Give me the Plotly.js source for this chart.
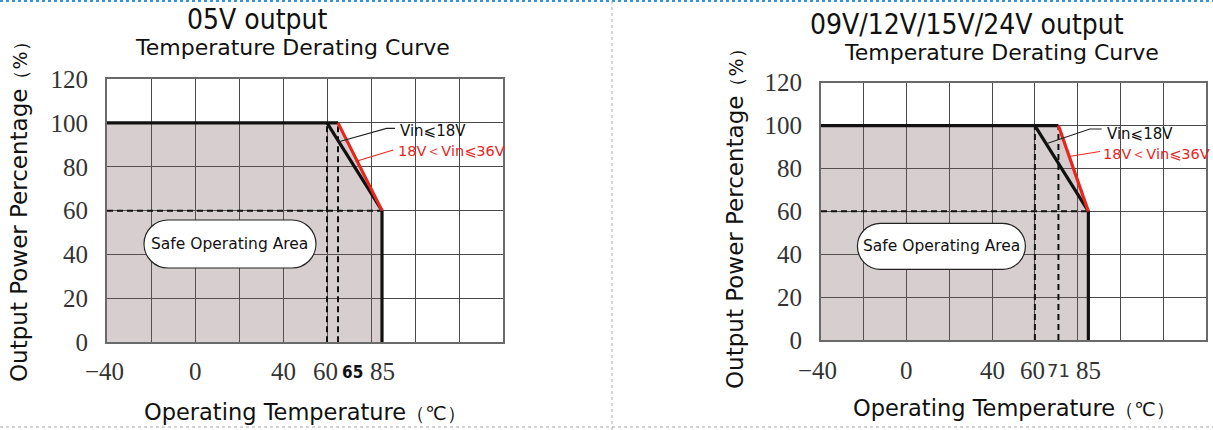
<!DOCTYPE html>
<html><head><meta charset="utf-8">
<script src="https://cdn.plot.ly/plotly-3.0.1.min.js"></script>
<style>html,body{margin:0;padding:0;background:#fff;overflow:hidden}#chart{width:1213px;height:430px}</style>
</head><body><div id="chart"></div>
<script>
// ---------------- data ----------------
const gridTemps = [-40, -20, 0, 20, 40, 60, 80, 100, 120, 140];
const powerTicks = [0, 20, 40, 60, 80, 100, 120];
const panelTitles = ["05V output", "09V/12V/15V/24V output"];
const subTitle = "Temperature Derating Curve";
const xTitleText = "Operating Temperature";
const yTitleText = "Output Power Percentage";
const areaLabel = "Safe Operating Area";
const vinLowLabel = "Vin⩽18V";
const vinHighLabel = "18V＜Vin⩽36V";

// Panel A (05V output)
const a_tickVals = [-40, 0, 40, 60, 65, 85];
const a_tickText = ["−40", "0", "40", "60", "65", "85"];
const a_areaT = [-40, 65, 85, 85, -40];
const a_areaP = [100, 100, 60, 0, 0];
const a_topT = [-40, 65];       const a_topP = [100, 100];
const a_lowVinT = [60, 85];     const a_lowVinP = [100, 60];
const a_highVinT = [65, 85];    const a_highVinP = [100, 60];
const a_cutT = [85, 85];        const a_cutP = [60, 0];
const a_dashHT = [-40, 85];     const a_dashHP = [60, 60];
const a_dashV1T = [60, 60];     const a_dashV1P = [0, 100];
const a_dashV2T = [65, 65];     const a_dashV2P = [0, 100];
const a_leadLowT = [65.4, 87.1, 90.9];  const a_leadLowP = [91.4, 97.5, 97.5];
const a_leadHighT = [73.7, 90.1];       const a_leadHighP = [82.6, 87.6];

// Panel B (09V/12V/15V/24V output)
const b_tickVals = [-40, 0, 40, 60, 71, 85];
const b_tickText = ["−40", "0", "40", "60", "71", "85"];
const b_areaT = [-40, 71, 85, 85, -40];
const b_areaP = [100, 100, 60, 0, 0];
const b_topT = [-40, 71];       const b_topP = [100, 100];
const b_lowVinT = [60, 85];     const b_lowVinP = [100, 60];
const b_highVinT = [71, 85];    const b_highVinP = [100, 60];
const b_cutT = [85, 85];        const b_cutP = [60, 0];
const b_dashHT = [-40, 85];     const b_dashHP = [60, 60];
const b_dashV1T = [60, 60];     const b_dashV1P = [0, 100];
const b_dashV2T = [71, 71];     const b_dashV2P = [0, 100];
const b_leadLowT = [65.3, 85.7, 91.2];  const b_leadLowP = [91.5, 98.4, 98.4];
const b_leadHighT = [76.0, 90.4];       const b_leadHighP = [85.6, 87.9];

// ---------------- styling / layout ----------------
const W = 1213, H = 430;
const px = v => v / W, py = v => 1 - v / H;
const SANS = "DejaVu Sans, Liberation Sans, sans-serif";
const NARROW = "Liberation Sans Narrow, DejaVu Sans Condensed, Liberation Sans, sans-serif";
const SERIF = "Liberation Serif, DejaVu Serif, serif";
const RED = "#e8261e", INK = "#111";

const panels = [
  {xa: "x", ya: "y", box: [107, 503, 79, 342.3],
   tickVals: a_tickVals, tickText: a_tickText,
   areaT: a_areaT, areaP: a_areaP, topT: a_topT, topP: a_topP,
   lowT: a_lowVinT, lowP: a_lowVinP, highT: a_highVinT, highP: a_highVinP,
   cutT: a_cutT, cutP: a_cutP,
   dashes: [[a_dashHT, a_dashHP], [a_dashV1T, a_dashV1P], [a_dashV2T, a_dashV2P]],
   leadLowT: a_leadLowT, leadLowP: a_leadLowP, leadHighT: a_leadHighT, leadHighP: a_leadHighP,
   title: panelTitles[0], titlePos: [257, 19], subPos: [292, 47.5],
   xTitlePos: [305, 412], yTitlePos: [19, 207],
   lowLabelPos: [92.2, 96.3], highLabelPos: [91.2, 87.2],
   pill: [15.9, 44.8, 86, 24], tickY: 371.7},
  {xa: "x2", ya: "y2", box: [821, 1206, 82.7, 340],
   tickVals: b_tickVals, tickText: b_tickText,
   areaT: b_areaT, areaP: b_areaP, topT: b_topT, topP: b_topP,
   lowT: b_lowVinT, lowP: b_lowVinP, highT: b_highVinT, highP: b_highVinP,
   cutT: b_cutT, cutP: b_cutP,
   dashes: [[b_dashHT, b_dashHP], [b_dashV1T, b_dashV1P], [b_dashV2T, b_dashV2P]],
   leadLowT: b_leadLowT, leadLowP: b_leadLowP, leadHighT: b_leadHighT, leadHighP: b_leadHighP,
   title: panelTitles[1], titlePos: [967, 24], subPos: [1001, 52.5],
   xTitlePos: [1014, 408], yTitlePos: [735, 214],
   lowLabelPos: [92.8, 96.3], highLabelPos: [90.8, 86.9],
   pill: [16.3, 43.7, 84, 23], tickY: 370}
];
const tickNudge = {"−40": -3, "60": -2, "65": 14};
const tickFontOverride = {
  "65": {family: NARROW, size: 17, color: "#111", weight: "bold"},
  "71": {family: SANS, size: 18, color: "#333"}
};

const traces = [], annotations = [], shapes = [];
const layout = {
  width: W, height: H, margin: {l: 0, r: 0, t: 0, b: 0},
  paper_bgcolor: "#fff", plot_bgcolor: "#fff", showlegend: false,
  hovermode: false, dragmode: false, annotations, shapes
};

panels.forEach((p, i) => {
  const axs = {xaxis: p.xa, yaxis: p.ya, hoverinfo: "skip", showlegend: false};
  traces.push(Object.assign({type: "scatter", mode: "none", x: p.areaT, y: p.areaP,
    fill: "toself", fillcolor: "rgba(122,95,95,0.30)"}, axs));
  p.dashes.forEach(d => traces.push(Object.assign({type: "scatter", mode: "lines", x: d[0], y: d[1],
    line: {color: "#111", width: 2, dash: "6px,4px"}}, axs)));
  [[p.topT, p.topP], [p.lowT, p.lowP], [p.cutT, p.cutP]].forEach(s =>
    traces.push(Object.assign({type: "scatter", mode: "lines", x: s[0], y: s[1],
      line: {color: "#111", width: 3.2}}, axs)));
  traces.push(Object.assign({type: "scatter", mode: "lines", x: p.highT, y: p.highP,
    line: {color: RED, width: 3.2}}, axs));
  traces.push(Object.assign({type: "scatter", mode: "lines", x: p.leadLowT, y: p.leadLowP,
    line: {color: "#222", width: 1.1}, cliponaxis: false}, axs));
  traces.push(Object.assign({type: "scatter", mode: "lines", x: p.leadHighT, y: p.leadHighP,
    line: {color: RED, width: 1.1}, cliponaxis: false}, axs));

  const sfx = i === 0 ? "" : "2";
  const [l, r, t, b] = p.box;
  layout["xaxis" + sfx] = {
    domain: [px(l), px(r)], range: [gridTemps[0], gridTemps[gridTemps.length - 1]],
    anchor: "y" + sfx, tickmode: "array", tickvals: gridTemps, showticklabels: false, ticks: "",
    showgrid: true, gridcolor: "#4a4a4a", gridwidth: 1, zeroline: false,
    showline: true, mirror: true, linecolor: "#6a6a6a", linewidth: 2, fixedrange: true
  };
  layout["yaxis" + sfx] = {
    domain: [py(b), py(t)], range: [powerTicks[0], powerTicks[powerTicks.length - 1]],
    anchor: "x" + sfx, tickmode: "array", tickvals: powerTicks, ticks: "",
    ticklabelstandoff: 12, tickfont: {family: SERIF, size: 25, color: "#333"},
    showgrid: true, gridcolor: "#4a4a4a", gridwidth: 1, zeroline: false,
    showline: true, mirror: true, linecolor: "#6a6a6a", linewidth: 2, fixedrange: true
  };

  // x tick labels (custom so that neighbouring labels sit side by side)
  p.tickVals.forEach((v, k) => {
    const txt = p.tickText[k];
    annotations.push({xref: p.xa, yref: "paper", x: v, y: py(p.tickY), text: txt,
      showarrow: false, xanchor: "center", yanchor: "middle", xshift: tickNudge[txt] || 0,
      borderpad: 0, font: tickFontOverride[txt] || {family: SERIF, size: 25, color: "#333"}});
  });

  // titles
  annotations.push({xref: "paper", yref: "paper", x: px(p.titlePos[0]), y: py(p.titlePos[1]),
    text: p.title, showarrow: false, xanchor: "center", yanchor: "middle", borderpad: 0,
    font: {family: NARROW, size: 28, color: INK}});
  annotations.push({xref: "paper", yref: "paper", x: px(p.subPos[0]), y: py(p.subPos[1]),
    text: subTitle, showarrow: false, xanchor: "center", yanchor: "middle", borderpad: 0,
    font: {family: SANS, size: 22, color: INK}});
  annotations.push({xref: "paper", yref: "paper", x: px(p.xTitlePos[0]), y: py(p.xTitlePos[1]),
    text: xTitleText + '<span style="font-size:19px">（℃）</span>', showarrow: false,
    xanchor: "center", yanchor: "middle", font: {family: SANS, size: 22.5, color: INK}});
  annotations.push({xref: "paper", yref: "paper", x: px(p.yTitlePos[0]), y: py(p.yTitlePos[1]),
    text: yTitleText + '<span style="font-size:19px">（%）</span>', showarrow: false, textangle: -90,
    xanchor: "center", yanchor: "middle", font: {family: SANS, size: 23, color: INK}});

  // curve labels
  annotations.push({xref: p.xa, yref: p.ya, x: p.lowLabelPos[0], y: p.lowLabelPos[1], text: vinLowLabel,
    showarrow: false, xanchor: "left", yanchor: "middle", font: {family: SANS, size: 15, color: "#111"}});
  annotations.push({xref: p.xa, yref: p.ya, x: p.highLabelPos[0], y: p.highLabelPos[1], text: vinHighLabel,
    showarrow: false, xanchor: "left", yanchor: "middle", font: {family: SANS, size: 14.5, color: RED}});

  // safe operating area pill
  const [cx, cy, hw, hh] = p.pill;
  const s = hw - hh, k = hh * 0.5523;
  const path = `M ${-s},${-hh} L ${s},${-hh} C ${s + k},${-hh} ${hw},${-k} ${hw},0 ` +
    `C ${hw},${k} ${s + k},${hh} ${s},${hh} L ${-s},${hh} C ${-s - k},${hh} ${-hw},${k} ${-hw},0 ` +
    `C ${-hw},${-k} ${-s - k},${-hh} ${-s},${-hh} Z`;
  shapes.push({type: "path", xref: p.xa, yref: p.ya, xsizemode: "pixel", ysizemode: "pixel",
    xanchor: cx, yanchor: cy, path, fillcolor: "#fff", line: {color: "#222", width: 1.2}, layer: "above"});
  annotations.push({xref: p.xa, yref: p.ya, x: cx, y: cy, text: areaLabel, showarrow: false,
    xanchor: "center", yanchor: "middle", font: {family: SANS, size: 15.5, color: "#111"}});
});

// page separators
shapes.push({type: "line", xref: "paper", yref: "paper", x0: 0, x1: 1, y0: py(1), y1: py(1),
  line: {color: "#3a93d6", width: 2, dash: "dot"}});
shapes.push({type: "line", xref: "paper", yref: "paper", x0: px(612), x1: px(612), y0: 0, y1: 1,
  line: {color: "#b0b0b0", width: 1, dash: "dot"}});
shapes.push({type: "line", xref: "paper", yref: "paper", x0: 0, x1: 1, y0: py(427), y1: py(427),
  line: {color: "#a8a8a8", width: 1, dash: "dot"}});

Plotly.newPlot("chart", traces, layout, {staticPlot: true, displayModeBar: false});
</script></body></html>
